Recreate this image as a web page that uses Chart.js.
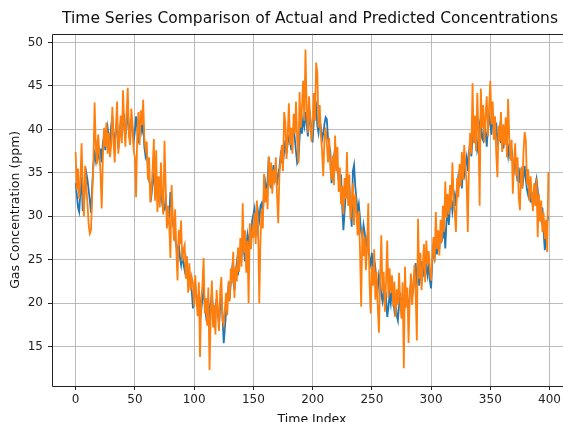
<!DOCTYPE html>
<html>
<head>
<meta charset="utf-8">
<script src="https://cdn.jsdelivr.net/npm/chart.js@4.4.0/dist/chart.umd.min.js"></script>
<style>
  html, body { margin: 0; padding: 0; overflow: hidden; background: #fff; }
  #myChart { display: block; }
</style>
</head>
<body>
<canvas id="myChart" width="620" height="440"></canvas>
<script>
const actual = [
  33.8, 32.5, 31.0, 30.5, 32.8, 34.5, 30.6, 31.5, 33.6, 35.0,
  34.2, 33.0, 31.8, 30.4, 33.5, 36.0, 37.2, 36.4, 38.0, 37.1,
  36.5, 37.8, 36.2, 38.5, 39.2, 37.6, 38.9, 40.2, 39.0, 38.4,
  40.5, 41.4, 39.6, 38.2, 39.9, 41.0, 37.8, 39.5, 40.8, 39.2,
  40.6, 41.8, 39.4, 40.2, 42.0, 40.5, 39.0, 41.2, 40.1, 38.6,
  39.8, 41.5, 40.2, 38.4, 39.6, 41.0, 39.8, 40.6, 38.0, 36.9,
  37.5, 35.8, 34.2, 33.5, 32.4, 33.8, 35.0, 33.1, 34.5, 32.6,
  33.4, 31.9, 32.8, 31.5, 30.6, 30.8, 32.0, 30.5, 29.4, 30.2,
  32.8, 31.0, 29.2, 28.5, 27.4, 26.6, 25.8, 26.9, 25.3, 24.4,
  25.6, 24.5, 23.8, 24.9, 23.2, 22.6, 23.5, 22.0, 21.4, 19.4,
  20.8, 21.9, 20.6, 19.8, 21.0, 20.3, 19.2, 20.5, 21.6, 19.9,
  18.6, 19.5, 20.4, 18.2, 19.8, 21.2, 19.0, 17.8, 19.2, 20.5,
  18.9, 17.5, 19.6, 20.8, 18.4, 15.4, 17.2, 19.0, 20.6, 21.8,
  20.5, 22.4, 23.8, 22.6, 21.5, 23.4, 24.6, 23.2, 24.8, 26.0,
  25.2, 27.0, 26.1, 24.8, 26.5, 27.8, 26.6, 28.2, 27.4, 29.5,
  30.2, 30.9, 29.0, 28.2, 30.5, 29.6, 31.2, 31.5, 30.4, 32.6,
  33.8, 32.5, 34.2, 36.8, 35.0, 33.2, 34.6, 35.9, 34.4, 35.5,
  33.6, 34.8, 35.6, 37.0, 36.2, 36.1, 37.5, 38.8, 37.2, 38.4,
  39.1, 38.7, 37.6, 39.5, 40.2, 38.9, 37.4, 36.1, 36.4, 39.0,
  40.8, 39.5, 41.2, 40.4, 42.0, 40.6, 39.2, 40.8, 41.5, 39.8,
  38.5, 40.9, 41.8, 42.6, 40.4, 39.6, 41.0, 40.2, 38.8, 39.5,
  40.6, 41.4, 41.2, 39.0, 38.2, 37.4, 33.8, 35.2, 36.8, 37.9,
  36.5, 35.4, 34.2, 33.0, 34.8, 31.2, 28.4, 30.5, 32.6, 33.4,
  32.0, 33.6, 30.8, 28.8, 35.2, 35.9, 33.5, 32.0, 30.6, 31.4,
  29.8, 28.2, 27.6, 29.0, 28.1, 26.5, 27.4, 26.0, 25.2, 24.5,
  25.8, 23.9, 22.8, 24.0, 22.5, 21.6, 23.2, 22.4, 21.0, 20.2,
  21.5, 19.8, 20.6, 18.4, 19.5, 21.0, 20.0, 21.8, 20.4, 19.2,
  20.5, 18.6, 18.0, 19.8, 21.2, 19.4, 20.6, 18.8, 20.0, 21.5,
  20.2, 19.0, 21.0, 22.2, 20.8, 21.6, 23.0, 24.6, 22.6, 23.4,
  22.0, 23.6, 24.8, 23.0, 24.2, 25.6, 24.0, 23.2, 25.0, 22.6,
  21.7, 24.8, 26.0, 25.2, 26.8, 25.6, 27.5, 26.4, 28.0, 27.2,
  27.6, 28.8, 26.3, 29.4, 30.5, 29.0, 31.2, 32.0, 30.6, 31.8,
  32.5, 31.2, 33.4, 34.6, 33.8, 34.9, 33.2, 35.6, 34.8, 36.0,
  36.8, 35.2, 37.4, 38.6, 36.9, 39.2, 40.1, 38.5, 39.8, 37.6,
  38.2, 40.6, 41.4, 39.0, 38.7, 40.8, 39.6, 38.0, 40.2, 41.5,
  40.6, 39.4, 41.8, 40.2, 39.0, 40.8, 38.6, 39.5, 40.3, 38.4,
  39.6, 37.8, 38.9, 39.8, 38.2, 37.0, 38.4, 36.6, 37.8, 36.2,
  35.4, 36.8, 35.2, 34.0, 35.6, 33.8, 34.9, 33.2, 34.5, 35.8,
  34.2, 33.0, 32.4, 33.8, 31.6, 32.8, 31.0, 32.5, 33.6, 34.3,
  33.0, 31.2, 30.4, 29.6, 31.0, 28.2, 26.1, 27.5, 29.4, 30.0
];

const predicted = [
  37.4, 33.0, 35.5, 32.0, 34.0, 38.4, 33.5, 30.0, 35.8, 33.4,
  31.5, 29.0, 28.0, 28.4, 32.5, 36.1, 43.1, 38.2, 36.0, 39.4,
  37.5, 35.0, 30.9, 36.8, 40.2, 38.0, 40.8, 37.2, 39.6, 36.8,
  38.2, 42.6, 38.5, 36.2, 40.4, 43.2, 37.2, 38.8, 41.6, 38.4,
  44.5, 40.5, 38.0, 41.8, 44.8, 39.2, 38.2, 42.4, 40.6, 37.5,
  36.8, 32.2, 39.5, 42.0, 38.2, 42.2, 40.5, 43.4, 39.0, 37.8,
  38.6, 34.2, 36.8, 31.6, 33.0, 35.5, 38.9, 31.8, 37.6, 30.5,
  34.6, 31.0, 36.2, 32.4, 30.2, 38.7, 33.5, 28.6, 31.2, 29.0,
  25.2, 33.6, 30.0, 27.2, 30.8, 26.0, 22.6, 28.4, 26.8, 29.5,
  24.8, 26.2, 26.7, 22.8, 25.4, 21.2, 24.6, 21.5, 23.0, 22.3,
  19.6, 23.2, 20.4, 18.5, 22.4, 13.8, 20.5, 22.0, 25.2, 18.8,
  20.6, 17.4, 21.8, 12.3, 18.5, 22.6, 17.2, 19.8, 16.4, 21.5,
  19.2, 16.8, 21.4, 23.0, 18.0, 17.5, 19.4, 21.2, 18.6, 22.5,
  20.2, 24.0, 22.4, 25.9, 20.6, 24.2, 22.5, 26.4, 23.6, 27.5,
  24.2, 31.5, 25.8, 28.4, 23.5, 27.2, 20.0, 29.2, 26.2, 28.4,
  27.5, 30.4, 26.8, 31.8, 29.0, 20.0, 27.2, 30.8, 28.6, 34.9,
  31.6, 33.2, 30.8, 36.9, 33.4, 36.2, 32.6, 35.4, 33.8, 36.8,
  32.4, 29.2, 34.8, 36.5, 38.2, 35.2, 42.0, 40.8, 36.6, 39.4,
  43.0, 38.2, 40.2, 37.2, 41.8, 39.5, 43.2, 38.8, 36.1, 44.3,
  40.2, 42.5, 45.6, 41.0, 49.2, 42.4, 39.6, 43.8, 41.2, 38.6,
  40.2, 44.2, 41.0, 47.7, 46.5, 40.2, 42.8, 39.4, 37.5, 34.6,
  38.8, 40.2, 38.4, 36.2, 39.0, 35.5, 34.2, 37.0, 33.6, 39.3,
  35.2, 38.0, 32.8, 35.6, 31.4, 33.5, 30.2, 34.4, 32.0, 37.4,
  31.2, 34.8, 29.6, 31.5, 33.8, 29.0, 32.6, 30.4, 27.8, 30.6,
  26.2, 19.6, 28.5, 25.4, 27.6, 23.8, 26.4, 31.5, 22.6, 18.8,
  24.2, 22.0, 26.2, 20.4, 23.6, 19.5, 16.6, 22.8, 27.8, 21.4,
  23.6, 19.0, 22.4, 27.2, 20.6, 24.0, 21.2, 23.2, 19.6, 22.5,
  18.4, 21.6, 19.8, 23.5, 20.2, 18.2, 22.4, 12.5, 24.2, 19.5,
  21.8, 15.4, 20.6, 23.4, 19.8, 22.2, 24.4, 21.0, 15.7, 29.7,
  22.8, 25.8, 21.5, 24.2, 26.8, 22.4, 27.2, 24.5, 26.0, 23.8,
  22.6, 25.4, 27.6, 24.8, 30.5, 26.2, 28.4, 25.5, 29.6, 27.0,
  31.2, 28.2, 34.0, 29.8, 32.6, 30.2, 33.6, 31.0, 36.2, 32.4,
  30.2, 28.2, 34.4, 32.2, 36.0, 33.5, 37.4, 34.2, 38.2, 35.6,
  33.8, 28.2, 36.4, 39.6, 37.2, 45.3, 38.4, 41.6, 37.5, 44.2,
  39.8, 31.2, 44.7, 40.2, 42.8, 38.5, 41.6, 43.8, 39.2, 42.6,
  45.6, 40.6, 43.2, 38.8, 41.5, 37.2, 34.5, 40.4, 38.6, 42.0,
  37.4, 40.6, 38.2, 41.4, 36.8, 43.5, 39.2, 36.4, 38.8, 32.6,
  36.2, 38.4, 34.6, 36.8, 32.2, 30.7, 35.6, 33.2, 37.4, 39.7,
  38.7, 33.6, 35.4, 31.8, 34.6, 32.4, 30.6, 33.8, 31.2, 34.4,
  27.6, 32.6, 29.4, 31.8, 28.2, 30.4, 27.4, 29.6, 25.9, 35.1
];

const xTicks = [0, 50, 100, 150, 200, 250, 300, 350, 400];
const yTicks = [15, 20, 25, 30, 35, 40, 45, 50];

const toPoints = arr => arr.map((v, i) => ({ x: i, y: v }));

// left, top and bottom spines (the right one falls outside the window)
const frame = {
  id: 'frame',
  afterDraw(chart) {
    const { ctx, chartArea: a } = chart;
    const l = Math.round(a.left) + 0.5, t = Math.round(a.top) + 0.5, b = Math.round(a.bottom) + 0.5;
    ctx.save();
    ctx.strokeStyle = '#222';
    ctx.lineWidth = 1;
    ctx.beginPath();
    ctx.moveTo(a.right, t);
    ctx.lineTo(l, t);
    ctx.lineTo(l, b);
    ctx.lineTo(a.right, b);
    ctx.stroke();
    ctx.restore();
  }
};

const ctx = document.getElementById('myChart');

new Chart(ctx, {
  type: 'line',
  data: {
    datasets: [{
      label: 'Actual',
      data: toPoints(actual),
      borderColor: '#1f77b4',
      borderWidth: 1.8,
      pointRadius: 0,
      tension: 0,
      yAxisID: 'y',
      order: 1
    }, {
      label: 'Predicted',
      data: toPoints(predicted),
      borderColor: '#ff7f0e',
      borderWidth: 1.8,
      pointRadius: 0,
      tension: 0,
      yAxisID: 'y',
      order: 0
    }]
  },
  options: {
    responsive: false,
    animation: false,
    layout: { padding: 0 },
    plugins: {
      legend: { display: false },
      tooltip: { enabled: false },
      title: {
        display: true,
        text: 'Time Series Comparison of Actual and Predicted Concentrations',
        color: '#111',
        font: { family: 'DejaVu Sans', size: 15.5, weight: 'normal' },
        padding: { top: 10, bottom: 5 }
      }
    },
    scales: {
      x: {
        type: 'linear',
        min: -19.95,
        max: 418.95,
        afterBuildTicks: s => { s.ticks = xTicks.map(v => ({ value: v })); },
        afterFit: s => { s.height = 54; },
        ticks: {
          color: '#222',
          font: { family: 'DejaVu Sans', size: 12 },
          padding: 3,
          maxRotation: 0
        },
        grid: { color: 'rgba(176,176,176,0.85)', lineWidth: 1, tickLength: 4, tickColor: '#222' },
        border: { display: false },
        title: {
          display: true,
          text: 'Time Index',
          color: '#111',
          font: { family: 'DejaVu Sans', size: 12.5 },
          padding: { top: 0, bottom: 13 }
        }
      },
      y: {
        position: 'left',
        min: 10.46,
        max: 51.03,
        afterBuildTicks: s => { s.ticks = yTicks.map(v => ({ value: v })); },
        afterFit: s => { s.width = 52; },
        ticks: {
          color: '#222',
          font: { family: 'DejaVu Sans', size: 12 },
          padding: 5
        },
        grid: { color: 'rgba(176,176,176,0.85)', lineWidth: 1, tickLength: 4, tickColor: '#222' },
        border: { display: false },
        title: {
          display: true,
          text: 'Gas Concentration (ppm)',
          color: '#111',
          font: { family: 'DejaVu Sans', size: 12.5 },
          padding: { top: 8, bottom: 0 }
        }
      },
      // empty strip on the right so the plot runs past the window edge
      right: {
        type: 'linear',
        position: 'right',
        display: true,
        afterFit: s => { s.width = 48; },
        ticks: { display: false },
        grid: { display: false },
        border: { display: false }
      }
    }
  },
  plugins: [frame]
});
</script>
</body>
</html>
